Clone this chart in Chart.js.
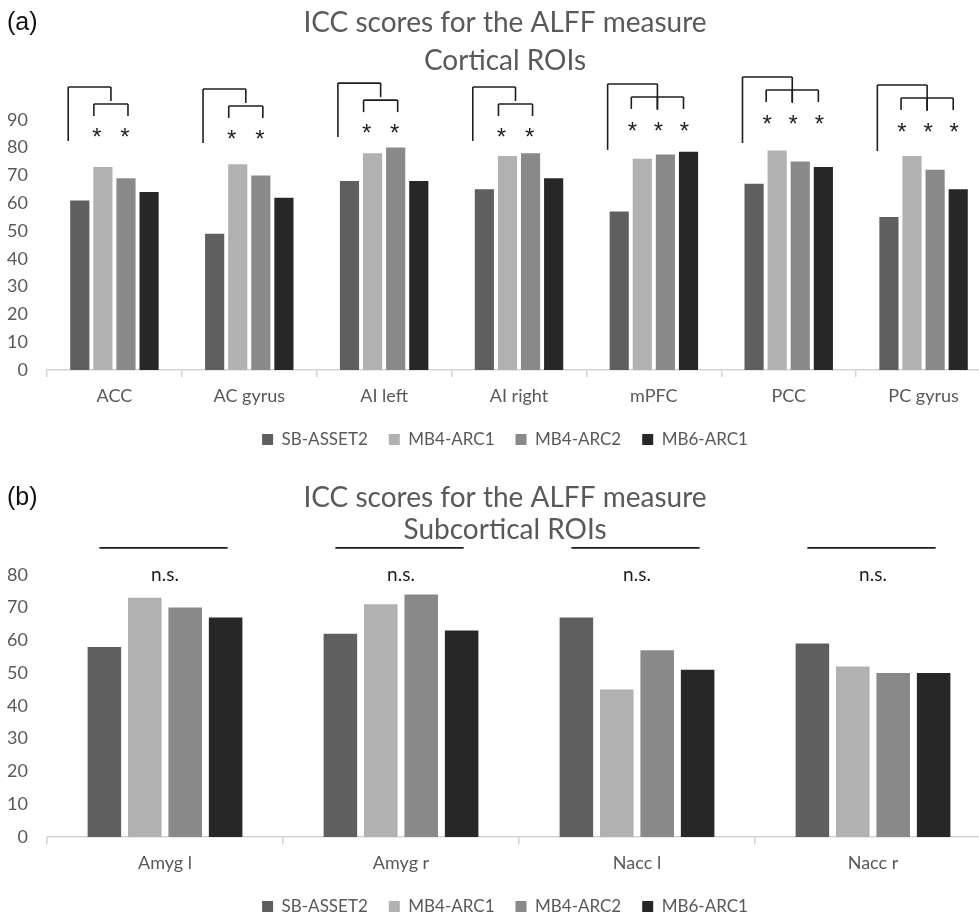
<!DOCTYPE html>
<html>
<head>
<meta charset="utf-8">
<script src="https://cdn.jsdelivr.net/npm/chart.js@4.4.1/dist/chart.umd.min.js"></script>
<style>
  html, body { margin: 0; padding: 0; background: #fff; overflow: hidden; }
  canvas { display: block; }
</style>
</head>
<body>
<canvas id="cortical" width="1010" height="458"></canvas>
<canvas id="subcortical" width="1010" height="467"></canvas>
<script>
const seriesNames = ["SB-ASSET2", "MB4-ARC1", "MB4-ARC2", "MB6-ARC1"]
const seriesColors = ["#5f5f5f", "#b1b1b1", "#898989", "#272727"]

// (a) cortical ROIs
const corticalRois = ["ACC", "AC gyrus", "AI left", "AI right", "mPFC", "PCC", "PC gyrus"]
const corticalSB = [61, 49, 68, 65, 57, 67, 55]
const corticalMB4a = [73, 74, 78, 77, 76, 79, 77]
const corticalMB4b = [69, 70, 80, 78, 77.5, 75, 72]
const corticalMB6 = [64, 62, 68, 69, 78.5, 73, 65]
const corticalTicks = [0, 10, 20, 30, 40, 50, 60, 70, 80, 90]
// number of multiband sequences marked * against SB-ASSET2
const corticalSig = [2, 2, 2, 2, 3, 3, 3]
// level of the top of each significance bracket
const corticalBracketTop = [101.8, 101.1, 103.2, 101.8, 102.9, 105.4, 102.5]

// (b) subcortical ROIs
const subcorticalRois = ["Amyg l", "Amyg r", "Nacc l", "Nacc r"]
const subcorticalSB = [58, 62, 67, 59]
const subcorticalMB4a = [73, 71, 45, 52]
const subcorticalMB4b = [70, 74, 57, 50]
const subcorticalMB6 = [67, 63, 51, 50]
const subcorticalTicks = [0, 10, 20, 30, 40, 50, 60, 70, 80]
const nsLineLevel = 88.2
const nsTextLevel = 80

const tickColor = "#595959"
const baseFont = "Lato"

function makeDatasets(values) {
    return values.map((data, k) => ({
        label: seriesNames[k],
        data: data,
        backgroundColor: seriesColors[k],
        borderWidth: 0,
        categoryPercentage: 0.685,
        barPercentage: 0.83,
    }))
}

// "(a)" / "(b)" in the top left corner
function panelLabel(text, y) {
    return {
        id: "panelLabel",
        afterDraw(chart) {
            const c = chart.ctx
            c.save()
            c.fillStyle = "#111"
            c.font = "25px 'Liberation Sans'"
            c.textAlign = "left"
            c.textBaseline = "middle"
            c.fillText(text, 7, y)
            c.restore()
        },
    }
}

const corticalBrackets = {
    id: "corticalBrackets",
    afterDatasetsDraw(chart) {
        const c = chart.ctx
        const y = chart.scales.y
        c.save()
        c.strokeStyle = "#1e1e1e"
        c.fillStyle = "#1e1e1e"
        c.lineWidth = 1.6
        c.font = "24px 'Liberation Sans'"
        c.textAlign = "center"
        c.textBaseline = "alphabetic"
        const line = (x1, y1, x2, y2) => {
            c.beginPath()
            c.moveTo(x1, y1)
            c.lineTo(x2, y2)
            c.stroke()
        }
        corticalRois.forEach((roi, i) => {
            const bars = seriesNames.map((s, k) => chart.getDatasetMeta(k).data[i])
            const top = y.getPixelForValue(corticalBracketTop[i])
            const left = bars[0].x - bars[0].width / 2 - 2
            let legs, stars, mid
            if (corticalSig[i] === 2) {
                legs = [bars[1].x - 9, bars[2].x + 2]
                mid = (legs[0] + legs[1]) / 2
                line(left, top, mid, top)
                line(left, top, left, top + 54)
                line(mid, top, mid, top + 14)
                line(legs[0], top + 17, legs[1], top + 17)
                legs.forEach((x) => line(x, top + 17, x, top + 29))
                stars = [legs[0] + 3, legs[1] - 3]
                stars.forEach((x) => c.fillText("*", x, top + 45 + 13))
            } else {
                legs = [bars[1].x - 11, bars[2].x - 8, bars[3].x - 5]
                mid = legs[1]
                line(left, top, mid, top)
                line(left, top, left, top + 66)
                line(mid, top, mid, top + 26)
                line(legs[0], top + 13, legs[2], top + 13)
                legs.forEach((x) => line(x, top + 13, x, top + 25))
                stars = [bars[1].x - 10, bars[2].x - 7, bars[3].x - 4]
                stars.forEach((x) => c.fillText("*", x, top + 42 + 13))
            }
        })
        c.restore()
    },
}

const subcorticalNs = {
    id: "subcorticalNs",
    afterDatasetsDraw(chart) {
        const c = chart.ctx
        const y = chart.scales.y
        c.save()
        c.strokeStyle = "#1e1e1e"
        c.fillStyle = "#1e1e1e"
        c.lineWidth = 1.6
        c.font = "19px " + baseFont
        c.textAlign = "center"
        c.textBaseline = "middle"
        subcorticalRois.forEach((roi, i) => {
            const first = chart.getDatasetMeta(0).data[i]
            const last = chart.getDatasetMeta(3).data[i]
            const ly = y.getPixelForValue(nsLineLevel)
            c.beginPath()
            c.moveTo(first.x - 5, ly)
            c.lineTo(last.x + 2, ly)
            c.stroke()
            c.fillText("n.s.", chart.scales.x.getPixelForValue(i), y.getPixelForValue(nsTextLevel))
        })
        c.restore()
    },
}

function makeOptions(title, titlePadding, lineHeight, yMax, ticks) {
    return {
        responsive: false,
        animation: false,
        layout: { padding: { left: 7, right: 7, top: 0, bottom: 0 } },
        scales: {
            x: {
                afterFit: (scale) => {
                    scale.height = 40
                },
                grid: {
                    offset: true,
                    drawOnChartArea: false,
                    drawTicks: true,
                    tickLength: 7,
                    color: "#d4d4d4",
                    lineWidth: 1.5,
                },
                border: { color: "#d4d4d4", width: 1.5 },
                ticks: {
                    color: tickColor,
                    font: { family: baseFont, size: 18 },
                    padding: 8,
                },
            },
            y: {
                min: 0,
                max: yMax,
                afterFit: (scale) => {
                    scale.width = 40
                },
                grid: { display: false, drawTicks: false },
                border: { display: false },
                ticks: {
                    stepSize: 10,
                    padding: 19,
                    color: tickColor,
                    font: { family: baseFont, size: 18 },
                    callback: (v) => (ticks.includes(v) ? String(v) : ""),
                },
            },
            // empty right-hand strip, keeps title and legend centred like the original
            yRight: {
                type: "linear",
                position: "right",
                afterFit: (scale) => {
                    scale.width = 12
                },
                grid: { display: false, drawTicks: false },
                border: { display: false },
                ticks: { display: false },
            },
        },
        plugins: {
            title: {
                display: true,
                text: title,
                color: tickColor,
                font: { family: baseFont, size: 28, weight: "normal", lineHeight: lineHeight },
                padding: titlePadding,
            },
            legend: {
                position: "bottom",
                labels: {
                    color: tickColor,
                    font: { family: baseFont, size: 17 },
                    boxWidth: 11,
                    boxHeight: 11,
                    padding: 21,
                },
            },
            tooltip: { enabled: false },
        },
    }
}

new Chart(document.getElementById("cortical").getContext("2d"), {
    type: "bar",
    data: {
        labels: corticalRois,
        datasets: makeDatasets([corticalSB, corticalMB4a, corticalMB4b, corticalMB6]),
    },
    options: makeOptions(
        ["ICC scores for the ALFF measure", "Cortical ROIs"],
        { top: 4, bottom: 12 },
        38 / 28,
        100,
        corticalTicks
    ),
    plugins: [corticalBrackets, panelLabel("(a)", 23)],
})

new Chart(document.getElementById("subcortical").getContext("2d"), {
    type: "bar",
    data: {
        labels: subcorticalRois,
        datasets: makeDatasets([subcorticalSB, subcorticalMB4a, subcorticalMB4b, subcorticalMB6]),
    },
    options: makeOptions(
        ["ICC scores for the ALFF measure", "Subcortical ROIs"],
        { top: 24, bottom: -4 },
        32 / 28,
        90,
        subcorticalTicks
    ),
    plugins: [subcorticalNs, panelLabel("(b)", 40)],
})
</script>
</body>
</html>
